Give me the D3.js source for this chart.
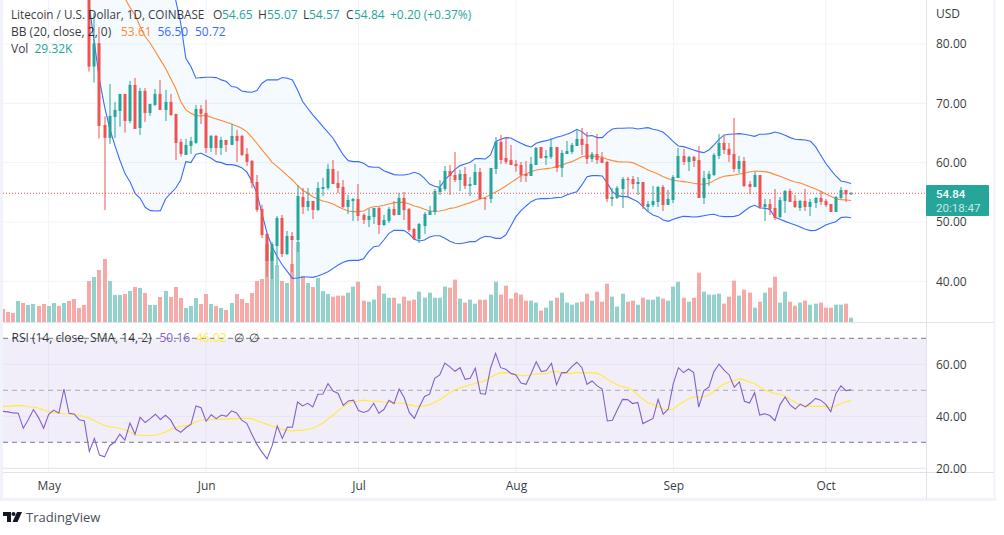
<!DOCTYPE html>
<html>
<head>
<meta charset="utf-8">
<script src="https://cdn.jsdelivr.net/npm/d3@7"></script>
<style>
    html, body { margin: 0; padding: 0; background: #fff; overflow: hidden; }
    svg { display: block; }
    text { font-family: "Open Sans", sans-serif; font-size: 12px; fill: #131722; }
    .domain { display: none; }
    .tick line { display: none; }
</style>
</head>
<body>
<svg id="chart" width="1004" height="535"></svg>
<script>
// volume runs from 22 Apr, the candles only come on screen from 9 May
var firstDay = new Date(Date.UTC(2021, 3, 22));
var firstCandleDay = new Date(Date.UTC(2021, 4, 9));

var priceTicks = [80, 70, 60, 50, 40];
var rsiTicks = [60, 40, 20];
var rsiLevels = [70, 50, 30];
var monthTicks = [
    new Date(Date.UTC(2021, 4, 1)), new Date(Date.UTC(2021, 5, 1)), new Date(Date.UTC(2021, 6, 1)),
    new Date(Date.UTC(2021, 7, 1)), new Date(Date.UTC(2021, 8, 1)), new Date(Date.UTC(2021, 9, 1))
];

var candleOpen = [
    95,76.2,80.13,66.36,64.17,67.71,68.72,71.59,67.03,73.11,65.85,72.09,68.38,69.73,71.59,68.89,70.24,68.22,63.49,61.3,62.82,63.33,69.06,68.38,62.48,64.5,62.48,63.83,62.99,64.5,64.5,61.47,60.29,56.74,52.19,47.98,43.42,45.95,50.67,44.6,47.64,46.96,54.21,52.53,53.54,52.02,55.56,55.73,
    58.93,56.57,55.9,52.53,53.54,53.88,51.18,50.33,50.84,52.36,49.49,50.17,52.19,51.18,54.04,52.19,48.82,47.13,49.32,51.18,51.68,55.06,55.56,58.6,57.92,57.08,58.09,56.07,56.24,58.43,54.04,53.88,58.93,63.49,60.79,60.45,59.78,59.61,58.09,57.75,59.61,62.64,60.79,60.96,62.64,59.1,61.46,61.8,62.81,63.99,63.15,60.62,61.46,60.79,60.12,53.88,54.04,55.56,57.25,57.25,56.4,56.74,52.53,52.86,53.37,
    55.9,52.86,53.71,57.42,61.13,60.12,60.96,60.45,54.04,57.25,57.92,61.13,63.32,62.31,61.46,58.93,60.28,56.4,55.9,57.92,52.53,53.03,52.36,50.84,53.54,55.22,53.54,52.36,53.54,52.53,53.2,54.04,53.54,53.03,51.68,54.04,55.39,54.65
];
var candleHigh = [
    96,85.2,82.83,67.8,73.27,70.24,71.59,71.6,73.78,74.29,72.6,72.6,69.9,72.43,73.95,72.26,71.59,68.22,64,64,64.34,69.73,69.73,70.58,64.67,64.67,64.34,63.83,66.53,65.52,64.67,62.48,60.46,57.92,52.9,48.1,46.6,51,51.18,48.48,48.31,56.24,55.73,55.73,53.54,56.74,57.42,59.8,
    60.45,58.6,57.08,54.55,54.04,56.4,51.46,52.19,52.36,52.53,51.18,52.53,53.54,54.89,55.06,52.36,48.98,49.83,51.68,52.7,55.56,57.08,59.44,59.61,61.8,58.77,59.27,57.58,59.78,59.1,54.04,59.1,64.33,64.67,64.33,62.98,60.45,60.12,60.28,60.96,62.64,62.64,62.14,64.16,62.64,62.14,63.66,63.32,65.68,65.85,65.17,61.8,64.84,61.8,60.28,55.73,56.07,57.58,57.58,57.75,57.58,56.74,53.54,56.07,56.07,
    56.24,55.39,57.92,62.48,62.31,61.13,61.13,62.81,58.6,58.6,61.63,64.84,64.5,63.32,67.53,61.13,60.96,56.91,58.43,57.92,53.88,53.88,55.56,54.21,55.39,55.6,54.55,53.71,55.56,53.88,54.21,55.22,53.88,53.03,54.38,55.9,55.39,55.07
];
var candleLow = [
    75.35,73.5,64.06,52.03,63.16,64.17,66.08,65.07,66.64,65.69,64.67,66.87,67.88,69.56,68.89,67.03,67.88,60.46,61,61.3,61.47,63.16,66.53,61.64,61.81,61.3,61.3,61.81,62.99,60.12,61.13,59.45,55.68,51.68,47.3,40.72,40.39,42.75,44.1,44.43,41.57,44.94,51.35,51.85,50.5,51.85,54.38,55.4,
    56.4,54.89,52.36,51.35,50.16,50.16,49.66,49.15,49.66,47.97,49.32,49.83,51.01,51.18,50.33,48.31,46.96,46.46,47.97,51.18,51.18,54.55,55.22,54.55,56.74,55.22,55.56,54.38,56.24,53.88,52.02,53.2,58.09,59.78,59.78,59.61,58.43,56.74,56.74,57.75,59.61,60.62,59.61,60.62,58.43,57.58,61.46,61.46,62.81,61.3,59.78,60.12,59.78,59.95,53.37,52.69,53.88,52.36,54.04,55.56,54.55,52.19,51.68,52.53,52.53,
    51.85,52.86,53.2,57.42,59.61,58.6,59.27,54.04,53.03,56.07,57.75,60.62,61.46,60.12,58.43,58.26,55.9,54.72,55.9,52.19,50.16,51.18,50.33,50.67,51.51,53.37,52.36,51.85,51.85,51.01,52.36,52.86,52.53,51.68,51.68,53.88,53.37,54.57
];
var candleClose = [
    76.2,80.13,66.19,64.17,67.88,68.89,71.59,67.03,73.11,65.69,72.09,68.38,69.9,71.59,68.89,70.24,68.05,63.33,61.47,62.99,63.66,69.06,68.22,62.48,64.5,62.48,63.83,62.99,64.5,63.66,61.3,60.12,56.57,52.02,47.81,43.42,46.29,50.67,44.6,47.64,46.96,54.38,52.53,53.54,52.02,55.73,55.9,58.94,
    56.4,55.73,52.53,53.71,53.88,51.01,50.33,51.01,52.36,49.49,50.33,52.19,51.18,54.04,52.02,48.65,47.13,49.66,51.35,51.85,55.22,55.73,58.6,57.75,57.08,58.09,56.07,56.4,58.43,53.88,53.88,59.1,63.49,60.45,60.12,59.61,59.44,57.92,57.75,59.78,62.48,60.79,61.13,62.64,59.1,61.63,61.97,62.98,63.99,62.98,60.62,61.46,60.45,59.95,53.88,54.21,55.73,57.25,57.08,56.4,56.74,52.69,53.03,53.54,55.9,
    52.86,53.88,57.58,61.13,60.12,60.96,60.28,54.04,57.42,58.09,61.3,63.32,62.14,61.3,58.93,60.28,56.07,55.9,57.92,52.53,53.03,52.19,50.67,53.71,55.22,53.37,52.53,53.54,52.53,53.37,54.04,53.37,52.86,51.68,54.21,55.39,54.64,54.84
];

// bands start with the candles too; the first ones sit above the top of the pane
var bbUpper = [
    118,119,120,121,121,121,120,120,119,118,117,115,113,110,107,103,98,
    87.44,83.5,77.6,76.2,74.23,74.34,74.4,74.4,74.34,73.95,73.67,72.82,72.71,72.09,71.93,71.87,72.15,73.39,73.95,73.95,73.95,74.34,74.23,73.95,72.26,70.3,69.17,68.05,67.09,66.08,65.12,
    64.11,62.7,61.3,60.34,60.17,60.17,59.89,59.33,59.22,59.22,58.65,58.32,57.98,57.92,57.92,58.09,58.37,58.09,57.36,56.4,56.01,55.84,57.08,57.92,58.88,59.5,59.78,60.06,60.68,60.68,60.62,61.3,63.54,63.94,64.22,64.16,63.71,63.26,62.87,62.64,63.26,63.54,63.71,63.94,64.27,64.5,64.78,65.12,65.62,65.23,64.5,64.56,64.22,64.22,65.06,65.68,65.79,65.79,65.85,65.85,65.68,65.79,65.9,65.62,65.45,
    65.12,64.39,63.54,62.81,62.7,62.42,62.14,61.86,61.69,62.14,62.98,63.94,64.67,64.78,64.84,64.89,64.78,64.61,64.44,64.78,64.78,64.89,65.17,64.95,64.61,64.22,63.94,63.88,63.82,63.6,62.7,61.3,59.89,58.77,57.75,56.91,56.74,56.5
];
var bbBasis = [
    96,95,94,93,92,90,89,
    87.7,86.2,84.91,82.94,81.26,80.13,78.73,77.32,75.92,74.23,72.54,70.3,68.89,68.33,67.93,67.88,67.99,67.65,67.37,67.09,66.81,66.53,66.19,65.8,65.24,64.28,63.27,62.14,61.13,60.06,59.33,58.6,57.81,57.08,56.13,55.4,54.83,54.27,53.88,53.54,53.31,
    53.03,52.58,52.19,51.85,51.74,51.74,51.85,52.3,52.58,52.64,52.81,53.03,53.26,53.31,53.31,53.03,52.7,52.47,52.13,51.85,51.79,51.85,52.02,52.3,52.41,52.7,52.98,53.26,53.59,53.88,54.16,54.61,55.06,55.51,56.07,56.63,57.19,57.81,58.09,58.48,58.77,58.88,58.99,59.1,59.33,59.55,59.89,60.17,60.56,61.01,61.13,61.07,61.01,60.9,60.56,60.34,60.17,60.12,60.12,60,59.61,59.22,58.77,58.43,58.09,
    57.64,57.3,57.02,56.91,56.8,56.69,56.52,56.4,56.35,56.52,56.97,57.42,57.7,57.81,57.92,58.09,58.26,58.43,58.6,58.54,58.48,58.32,57.98,57.7,57.36,57.02,56.74,56.57,56.24,55.9,55.56,55.17,54.72,54.32,53.93,53.76,53.71,53.61
];
var bbLower = [
    86.3,80.13,73.95,69.45,65.8,62.99,60.45,58.2,56.8,54.83,53.99,52.47,51.91,51.85,51.91,53.88,54.83,55.68,57.08,60.17,60,61.41,61.58,61.18,60.73,60.17,60,59.67,59.67,59.5,59.16,58.43,56.86,54.83,51.46,48.09,45.84,44.15,42.75,41.62,40.5,40.55,40.72,40.72,40.67,40.89,41.23,41.62,
    42.18,42.75,43.2,43.48,43.53,43.53,43.81,44.99,45.84,45.95,46.96,48.09,48.59,48.59,48.54,47.97,47.07,46.79,46.96,47.47,47.69,47.69,47.24,46.74,46.4,46.34,46.51,46.68,46.68,47.24,47.58,47.52,47.24,47.24,47.8,49.32,50.9,51.91,52.7,53.43,53.82,53.93,53.93,53.99,54.1,54.16,54.55,54.83,55.11,56.24,57.64,57.81,57.81,57.75,56.52,55.11,54.44,54.27,54.27,53.82,53.43,52.58,51.74,51.18,50.9,
    50.33,50.1,50.45,50.73,50.95,50.9,50.84,50.9,51.06,51.23,51.29,51.01,50.9,50.9,50.95,51.18,51.85,52.47,52.81,52.41,52.3,52.13,50.78,50.45,50.1,49.77,49.49,49.15,48.76,48.54,48.59,48.98,49.49,49.77,50.05,50.73,50.84,50.72
];

// volume in thousands, one per day from firstDay
var volume = [
    88,68,61,142,128,115,122,108,122,108,128,108,128,142,155,95,115,277,304,351,425,277,182,182,189,209,236,230,196,115,115,169,209,169,236,162,95,108,162,122,189,122,108,95,81,128,189,155,128,196,277,290,527,473,385,277,263,392,540,311,263,236,297,209,189,
    171,178,178,198,239,272,144,137,151,245,191,164,164,124,171,144,151,205,164,198,164,164,239,232,286,158,131,151,124,151,151,185,272,185,245,158,198,185,144,144,131,77,97,144,164,198,131,117,131,137,191,144,205,137,259,171,104,191,137,144,117,164,151,151,171,
    158,144,239,272,164,137,164,333,205,185,185,191,124,171,279,178,218,198,97,137,198,232,306,131,205,137,110,131,144,117,124,131,97,97,117,117,124,29.32
];
// direction of the days before the first candle on screen
var earlyVolumeUp = [0,0,0,1,0,1,1,0,0,1,1,0,1,0,0,0,0];

var rsi = [
    41.9,41.7,41.3,41.2,35.4,38.8,42.6,39.5,35.4,40.8,42.4,41.2,50.5,41.2,40.9,38.7,38.3,26.5,31.5,25.1,24.4,28.7,30.1,33.1,30.8,37.4,33.1,39.6,37.6,39.1,40.8,38.8,40.4,38.6,35.1,33.8,35.6,36.9,44,43.3,38.1,40.6,39.1,40.5,40,42.1,41.3,38.5,37.3,33.1,29.2,26.2,23.6,28.7,36.3,31.5,35.9,35.8,45.5,44,45,43.6,48.5,48.6,52.6,49.7,48.8,
    44.2,45.9,46.2,42.2,41.5,42.2,45,41.2,42.6,46.2,44.9,50.5,47.2,41.5,39.2,43.7,47.6,48.5,54.6,55.9,60.5,59,57.3,58.7,54.2,54.6,58.5,48.8,48.5,58.5,64.2,58.7,58.1,56.5,55.9,52.8,52.3,56.5,61,57.2,57.6,60.4,52.1,56.7,56.9,59.1,60.8,58.7,52.3,53.6,51.7,50.5,38.2,38.5,42.6,46.5,46.4,44.9,45.3,37.2,38.2,39.2,46.5,40.8,42.8,52.7,
    58.7,56.8,58.2,56.8,43.5,49.9,51.2,57.2,60.1,57.8,55.9,51.2,53.2,45.8,45.1,49.1,40.5,41,40.3,38.3,44.4,47.4,44.4,42.8,44.7,43.6,45.1,46.9,46.2,44.6,41.8,48.7,51.7,49.9,50.16
];
var rsiMa = [
    43.8,43.8,44,44.2,44,43.7,43.6,43.1,42.4,41.8,41.4,41.2,41,40.9,40.6,40.4,39.7,39.2,38.3,37.3,36.5,36,35.8,35.3,34.7,34,32.8,32.7,32.6,32.6,32.7,33.3,34,34.9,35.6,36.2,36.4,36.9,37.9,38.5,38.6,38.7,38.8,38.8,39,39.1,39.1,39.2,39.2,39.1,38.3,37.6,36.9,36.2,35.4,35,34.6,34.4,34.6,34.7,35,35.3,36.5,37.3,39,40.5,42.2,
    43.7,45.1,45.5,45.9,46.2,45.9,45.8,45.8,45.5,45.4,45.1,45.1,44.9,44.4,44,43.8,44,44.4,45.4,46.4,47.7,49.1,50.1,51,51.5,52.1,52.6,53.2,53.8,55,56,56.7,56.8,56.5,56.2,55.6,55.6,56,56.3,56.3,56.4,57.1,57.2,56.8,56.5,56.5,56.8,56.8,56.7,56.7,56.5,55.6,54.2,53.1,52.1,51.4,51,50,48.2,46.7,45.1,44.6,43.6,42.8,42.4,42.7,
    44.4,45.6,46.7,47.4,47.3,47.6,48.1,49.7,51.2,52.4,53.2,53.8,54.4,54,53.1,52.6,51.3,50.1,49.5,48.8,48.5,47.8,46.5,45.3,44.4,44,43.8,43.8,43.8,43.8,43.3,44,44.9,45.6,46.02
];

var dom = {};
var scales = {};
var colors = { up: '#26a69a', down: '#ef5350', upVol: '#93d2cc', downVol: '#f7a9a7', grid: '#f0f3fa', border: '#e0e3eb' };

window.onload = initialize;

function initialize() {
    dom.svg = d3.select('#chart');
    makeScales();
    makeClips();

    drawGrid();
    drawVolume();
    drawBands();
    drawCandles();
    drawLastPrice();
    drawRsi();
    drawFrame();
    drawAxes();
    drawLegend();
    drawLogo();
}

function dayOf(start, i) {
    return d3.utcDay.offset(start, i);
}

function makeScales() {
    scales.x = d3.scaleUtc().domain([monthTicks[0], monthTicks[5]]).range([48.7, 825.7]);
    scales.price = d3.scaleLinear().domain([40, 80]).range([281.3, 44]);
    scales.volume = d3.scaleLinear().domain([0, 540]).range([322, 242]);
    scales.rsi = d3.scaleLinear().domain([20, 60]).range([468.3, 364.3]);
}

function makeClips() {
    var defs = dom.svg.append('defs');
    defs.append('clipPath').attr('id', 'mainClip').append('rect')
        .attr('x', 3).attr('y', 0).attr('width', 923).attr('height', 322);
    defs.append('clipPath').attr('id', 'rsiClip').append('rect')
        .attr('x', 3).attr('y', 323).attr('width', 923).attr('height', 149);
}

function drawGrid() {
    var g = dom.svg.append('g');
    g.selectAll('.vgrid').data(monthTicks).enter().append('line')
        .attr('x1', function(d) { return scales.x(d); })
        .attr('x2', function(d) { return scales.x(d); })
        .attr('y1', 0).attr('y2', 472)
        .attr('stroke', colors.grid);
    g.selectAll('.hgrid').data(priceTicks).enter().append('line')
        .attr('x1', 3).attr('x2', 926)
        .attr('y1', function(d) { return scales.price(d); })
        .attr('y2', function(d) { return scales.price(d); })
        .attr('stroke', colors.grid);
}

function drawVolume() {
    var up = function(d, i) {
        if (i < earlyVolumeUp.length) return earlyVolumeUp[i] === 1;
        var k = i - earlyVolumeUp.length;
        return candleClose[k] >= candleOpen[k];
    };
    dom.svg.append('g').attr('clip-path', 'url(#mainClip)')
        .selectAll('rect').data(volume).enter().append('rect')
        .attr('x', function(d, i) { return Math.round(scales.x(dayOf(firstDay, i))) - 2; })
        .attr('width', 4)
        .attr('y', function(d) { return scales.volume(d); })
        .attr('height', function(d) { return scales.volume(0) - scales.volume(d); })
        .attr('fill', function(d, i) { return up(d, i) ? colors.upVol : colors.downVol; });
}

function drawBands() {
    var g = dom.svg.append('g').attr('clip-path', 'url(#mainClip)');
    var xAt = function(d, i) { return scales.x(dayOf(firstCandleDay, i)); };
    var area = d3.area().x(xAt)
        .y0(function(d, i) { return scales.price(bbLower[i]); })
        .y1(function(d) { return scales.price(d); });
    var line = d3.line().x(xAt).y(function(d) { return scales.price(d); });

    g.append('path').attr('d', area(bbUpper)).attr('fill', '#2196f3').attr('fill-opacity', 0.05);
    g.append('path').attr('d', line(bbUpper)).attr('fill', 'none').attr('stroke', '#3a6cff').attr('stroke-width', 1.1);
    g.append('path').attr('d', line(bbLower)).attr('fill', 'none').attr('stroke', '#3a6cff').attr('stroke-width', 1.1);
    g.append('path').attr('d', line(bbBasis)).attr('fill', 'none').attr('stroke', '#ff8a33').attr('stroke-width', 1.1);
}

function drawCandles() {
    var g = dom.svg.append('g').attr('clip-path', 'url(#mainClip)');
    var cx = function(i) { return Math.round(scales.x(dayOf(firstCandleDay, i))); };
    var color = function(i) { return candleClose[i] >= candleOpen[i] ? colors.up : colors.down; };

    g.selectAll('.wick').data(candleOpen).enter().append('rect')
        .attr('x', function(d, i) { return cx(i) - 0.5; })
        .attr('width', 1)
        .attr('y', function(d, i) { return scales.price(candleHigh[i]); })
        .attr('height', function(d, i) { return scales.price(candleLow[i]) - scales.price(candleHigh[i]); })
        .attr('fill', function(d, i) { return color(i); });

    g.selectAll('.body').data(candleOpen).enter().append('rect')
        .attr('x', function(d, i) { return cx(i) - 1.5; })
        .attr('width', 3)
        .attr('y', function(d, i) { return scales.price(Math.max(d, candleClose[i])); })
        .attr('height', function(d, i) { return Math.max(1, Math.abs(scales.price(d) - scales.price(candleClose[i]))); })
        .attr('fill', function(d, i) { return color(i); });
}

function drawLastPrice() {
    var last = candleClose[candleClose.length - 1];
    dom.svg.append('line')
        .attr('x1', 3).attr('x2', 926)
        .attr('y1', scales.price(last)).attr('y2', scales.price(last))
        .attr('stroke', colors.down).attr('stroke-dasharray', '1,2');
}

function drawRsi() {
    var g = dom.svg.append('g').attr('clip-path', 'url(#rsiClip)');
    var xAt = function(d, i) { return scales.x(dayOf(firstDay, i)); };
    var line = d3.line().x(xAt).y(function(d) { return scales.rsi(d); });

    g.append('rect')
        .attr('x', 3).attr('width', 923)
        .attr('y', scales.rsi(rsiLevels[0]))
        .attr('height', scales.rsi(rsiLevels[2]) - scales.rsi(rsiLevels[0]))
        .attr('fill', '#7e57c2').attr('fill-opacity', 0.1);

    g.selectAll('.rsiGrid').data(rsiTicks).enter().append('line')
        .attr('x1', 3).attr('x2', 926)
        .attr('y1', function(d) { return scales.rsi(d); })
        .attr('y2', function(d) { return scales.rsi(d); })
        .attr('stroke', '#e6e3f0');

    g.selectAll('.level').data(rsiLevels).enter().append('line')
        .attr('x1', 3).attr('x2', 926)
        .attr('y1', function(d) { return scales.rsi(d); })
        .attr('y2', function(d) { return scales.rsi(d); })
        .attr('stroke', '#787b86')
        .attr('stroke-opacity', function(d) { return d === 50 ? 0.6 : 1; })
        .attr('stroke-dasharray', '5,4');

    g.append('path').attr('d', line(rsiMa)).attr('fill', 'none').attr('stroke', '#ffeb3b').attr('stroke-width', 1.1);
    g.append('path').attr('d', line(rsi)).attr('fill', 'none').attr('stroke', '#8461c8').attr('stroke-width', 1.1);
}

function drawFrame() {
    var g = dom.svg.append('g');
    var hl = function(y, x2, col, w) {
        g.append('line').attr('x1', 0).attr('x2', x2).attr('y1', y).attr('y2', y).attr('stroke', col).attr('stroke-width', w);
    };
    var vl = function(x, y2, col, w) {
        g.append('line').attr('x1', x).attr('x2', x).attr('y1', 0).attr('y2', y2).attr('stroke', col).attr('stroke-width', w);
    };
    hl(322.5, 994, colors.border, 1);
    hl(472.5, 994, colors.border, 1);
    hl(499.5, 996, colors.grid, 3);
    vl(1.5, 501, colors.grid, 3);
    vl(926.5, 499, colors.border, 1);
    vl(994.5, 501, colors.grid, 2);
}

function drawAxes() {
    var priceAxis = d3.axisRight(scales.price).tickValues(priceTicks).tickFormat(d3.format('.2f')).tickSize(0).tickPadding(0);
    dom.svg.append('g').attr('transform', 'translate(936,0)').call(priceAxis);

    var rsiAxis = d3.axisRight(scales.rsi).tickValues(rsiTicks).tickFormat(d3.format('.2f')).tickSize(0).tickPadding(0);
    dom.svg.append('g').attr('transform', 'translate(936,0)').call(rsiAxis);

    var timeAxis = d3.axisBottom(scales.x).tickValues(monthTicks).tickFormat(d3.utcFormat('%b')).tickSize(0).tickPadding(0);
    dom.svg.append('g').attr('transform', 'translate(0,481)').call(timeAxis);

    dom.svg.selectAll('.tick text').style('font-size', '12px')
        .style('font-family', '"Open Sans", sans-serif').style('fill', '#131722').style('opacity', 0.85);

    dom.svg.append('text').attr('x', 936).attr('y', 18).style('opacity', 0.85).text('USD');

    // last price tag
    var last = candleClose[candleClose.length - 1];
    dom.svg.append('rect').attr('x', 926).attr('y', 185).attr('width', 63).attr('height', 31).attr('rx', 1).attr('fill', colors.up);
    dom.svg.append('text').attr('x', 936).attr('y', 198)
        .style('font-family', 'Roboto').style('font-size', '11.5px').style('fill', '#fff').style('font-weight', 500).text(d3.format('.2f')(last));
    dom.svg.append('text').attr('x', 936).attr('y', 211.5)
        .style('font-family', 'Roboto').style('font-size', '11.5px').style('fill', '#fff').style('fill-opacity', 0.75).text('20:18:47');
}

function drawLegend() {
    var put = function(x, y, txt, col) {
        return dom.svg.append('text').attr('x', x).attr('y', y).style('fill', col || '#131722').style('opacity', col ? 1 : 0.85).text(txt);
    };
    var n = candleClose.length - 1;
    var f = d3.format('.2f');
    var change = candleClose[n] - candleClose[n - 1];

    put(11, 19, 'Litecoin / U.S. Dollar, 1D, COINBASE').style('font-size', '11.7px');
    put(213, 19, 'O');
    put(222, 19, f(candleOpen[n]), colors.up);
    put(258, 19, 'H');
    put(267, 19, f(candleHigh[n]), colors.up);
    put(303, 19, 'L');
    put(309, 19, f(candleLow[n]), colors.up);
    put(346, 19, 'C');
    put(354, 19, f(candleClose[n]), colors.up);
    put(390, 19, '+' + f(change) + ' (+0.37%)', colors.up);

    put(11, 36, 'BB (20, close, 2, 0)');
    put(121, 36, f(bbBasis[n]), '#ff8a33');
    put(157.5, 36, f(bbUpper[n]), '#3a6cff');
    put(195, 36, f(bbLower[n]), '#3a6cff');

    put(11, 53, 'Vol');
    put(34.5, 53, d3.format('.2f')(volume[volume.length - 1]) + 'K', colors.up);

    put(11.5, 342, 'RSI (14, close, SMA, 14, 2)');
    put(159.5, 342, f(rsi[rsi.length - 1]), '#8461c8');
    put(196, 342, f(rsiMa[rsiMa.length - 1]), '#ffeb3b');
    put(234, 342, '\u2205');
    put(249, 342, '\u2205');
}

function drawLogo() {
    var g = dom.svg.append('g').attr('fill', '#131722');
    g.append('path').attr('d', 'M3 512h8v10h-4v-6h-4z');
    g.append('circle').attr('cx', 13.5).attr('cy', 514).attr('r', 2);
    g.append('path').attr('d', 'M17 512h5l-4.5 10h-5z');
    dom.svg.append('text').attr('x', 26).attr('y', 522).style('font-size', '13px').style('fill', '#4a4e5a').text('TradingView');
}
</script>
</body>
</html>
